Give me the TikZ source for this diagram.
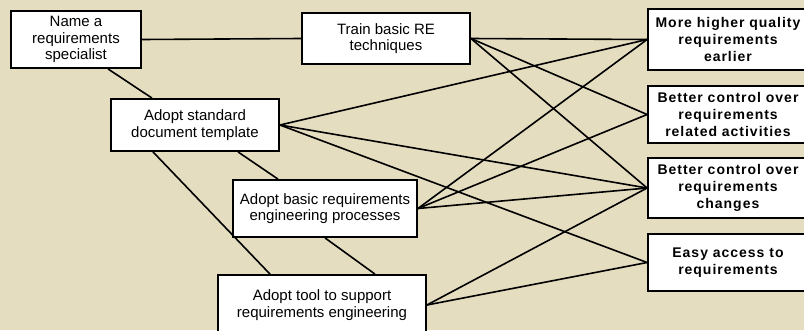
\documentclass[tikz,border=0pt]{standalone}
\usepackage{fontspec}
\setmainfont{Liberation Sans}
\newfontfamily\spacedbold{Liberation Sans}[LetterSpace=7]
\usetikzlibrary{calc}
\definecolor{parch}{HTML}{E4DDBF}
\tikzset{
  actbox/.style={draw=black, line width=1.8pt, fill=white, align=center, inner sep=2pt,
    font=\fontsize{15}{16.7}\selectfont},
  goalbox/.style={draw=black, line width=1.8pt, fill=white, align=center, inner sep=2pt,
    minimum width=160pt, font=\spacedbold\bfseries\fontsize{14}{16.7}\selectfont},
  link/.style={draw=black, line width=1.6pt},
}
\begin{document}
\begin{tikzpicture}[x=1pt,y=-1pt]
\clip (0,0) rectangle (804,330);
\fill[parch] (0,0) rectangle (804,330);
% activity boxes
\node[actbox, minimum width=130pt, minimum height=57pt] (A) at (76,39.5) {Name a\\requirements\\specialist};
\node[actbox, minimum width=168pt, minimum height=51pt] (B) at (386,38.5) {Train basic RE\\techniques};
\node[actbox, minimum width=168pt, minimum height=52pt] (C) at (195,125) {Adopt standard\\document template};
\node[actbox, minimum width=184pt, minimum height=57pt] (D) at (325,208.5) {Adopt basic requirements\\engineering processes};
\node[actbox, minimum width=208pt, minimum height=60pt] (E) at (322,305) {Adopt tool to support\\requirements engineering};
% goal boxes
\node[goalbox, minimum height=61pt] (R1) at (728,39.5) {More higher quality\\requirements\\earlier};
\node[goalbox, minimum height=57pt] (R2) at (728,114.5) {Better control over\\requirements\\related activities};
\node[goalbox, minimum height=60pt] (R3) at (728,188) {Better control over\\requirements\\changes};
\node[goalbox, minimum height=57pt] (R4) at (728,262.5) {Easy access to\\requirements};
% links among activities
\draw[link] (A.east) -- (B.west);
\draw[link] ([xshift=32pt]A.south) -- ([xshift=-43pt]C.north);
\draw[link] ([xshift=-42pt]C.south) -- ([xshift=-52pt]E.north);
\draw[link] ([xshift=43pt]C.south) -- ([xshift=-47pt]D.north);
\draw[link] (D.south) -- ([xshift=53pt]E.north);
% links to goals
\draw[link] (B.east) -- (R1.west);
\draw[link] (B.east) -- (R2.west);
\draw[link] (B.east) -- (R3.west);
\draw[link] (C.east) -- (R1.west);
\draw[link] (C.east) -- (R3.west);
\draw[link] (C.east) -- (R4.west);
\draw[link] (D.east) -- (R1.west);
\draw[link] (D.east) -- (R2.west);
\draw[link] (D.east) -- (R3.west);
\draw[link] (E.east) -- (R3.west);
\draw[link] (E.east) -- (R4.west);
\end{tikzpicture}
\end{document}
